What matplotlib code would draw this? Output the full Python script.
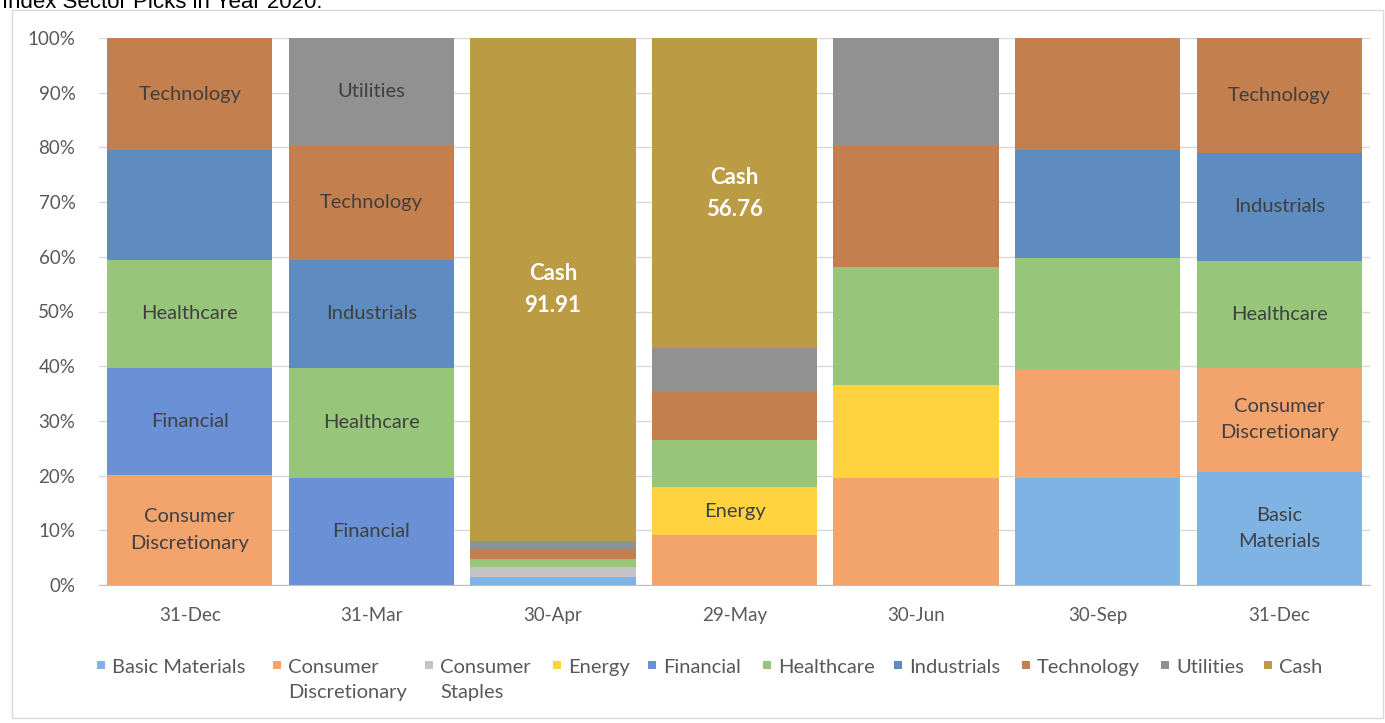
import numpy as np
import matplotlib
matplotlib.use("Agg")
import matplotlib.pyplot as plt
from matplotlib.patches import Rectangle

plt.rcParams['font.family'] = ['Lato', 'DejaVu Sans']

# --------------------------------------------------------------------------------------------
# DATA (percent of portfolio)
dates = ['31-Dec', '31-Mar', '30-Apr', '29-May', '30-Jun', '30-Sep', '31-Dec']

basic_materials = [0, 0, 1.5, 0, 0, 19.6, 20.7]
consumer_disc = [20.1, 0, 0, 9.1, 19.6, 19.7, 19.0]
consumer_staples = [0, 0, 1.7, 0, 0, 0, 0]
energy = [0, 0, 0, 8.8, 17.0, 0, 0]
financial = [19.6, 19.6, 0, 0, 0, 0, 0]
healthcare = [19.7, 20.1, 1.5, 8.6, 21.5, 20.5, 19.6]
industrials = [20.1, 19.7, 0, 0, 0, 19.7, 19.7]
technology = [20.5, 21.0, 1.8, 8.8, 22.3, 20.5, 21.0]
utilities = [0, 19.6, 1.59, 7.94, 19.6, 0, 0]
cash = [0, 0, 91.91, 56.76, 0, 0, 0]

series_names = ['Basic Materials', 'Consumer\nDiscretionary', 'Consumer\nStaples', 'Energy',
                'Financial', 'Healthcare', 'Industrials', 'Technology', 'Utilities', 'Cash']
series_values = [basic_materials, consumer_disc, consumer_staples, energy, financial,
                 healthcare, industrials, technology, utilities, cash]
colors = ['#7eb3e4', '#f3a36c', '#c4c4c4', '#ffd23f', '#6a90d6',
          '#97c67b', '#5e8cc0', '#c47f4f', '#919191', '#bb9c45']

# segment labels drawn inside bars: (bar index, series index, text)
seg_labels = [(0, 7, 'Technology'), (0, 5, 'Healthcare'), (0, 4, 'Financial'),
              (0, 1, 'Consumer\nDiscretionary'),
              (1, 8, 'Utilities'), (1, 7, 'Technology'), (1, 6, 'Industrials'),
              (1, 5, 'Healthcare'), (1, 4, 'Financial'),
              (3, 3, 'Energy'),
              (6, 7, 'Technology'), (6, 6, 'Industrials'), (6, 5, 'Healthcare'),
              (6, 1, 'Consumer\nDiscretionary'), (6, 0, 'Basic\nMaterials')]
cash_labels = [2, 3]

# --------------------------------------------------------------------------------------------
# PLOT
fig = plt.figure(figsize=(13.85, 7.23), dpi=100)
W, H = 1385, 723

# chart frame
fig.add_artist(Rectangle((12 / W, 5 / H), 1371 / W, 708 / H, transform=fig.transFigure,
                         fill=False, edgecolor='#d9d9d9', lw=1))
# title cut off at the top edge
fig.text(2 / W, 1 - 8 / H, 'Index Sector Picks in Year 2020:', fontsize=16,
         family=['Liberation Sans', 'DejaVu Sans'], color='black', va='baseline', ha='left')

ax = fig.add_axes([99 / W, 1 - 585 / H, (1370 - 99) / W, (585 - 38) / H])
x = np.arange(len(dates))
bottom = np.zeros(len(dates))
bottoms = []
for vals, col, name in zip(series_values, colors, series_names):
    vals = np.array(vals, dtype=float)
    ax.bar(x, vals, width=0.91, bottom=bottom, color=col, label=name, zorder=2)
    bottoms.append(bottom.copy())
    bottom += vals

for bi, si, txt in seg_labels:
    yc = bottoms[si][bi] + series_values[si][bi] / 2
    ax.text(x[bi], yc, txt, ha='center', va='center', fontsize=14.5,
            color='#404040', linespacing=1.65, zorder=3)
for bi in cash_labels:
    yc = bottoms[9][bi] + cash[bi] / 2
    ax.text(x[bi], yc, 'Cash\n%.2f' % cash[bi], ha='center', va='center', fontsize=16,
            color='white', fontweight='bold', linespacing=1.65, zorder=3)

ax.set_xlim(-0.5, len(dates) - 0.5)
ax.set_ylim(0, 100)
ax.set_yticks(np.arange(0, 101, 10))
ax.set_yticklabels(['%d%%' % v for v in range(0, 101, 10)])
ax.set_xticks(x)
ax.set_xticklabels(dates)
ax.tick_params(axis='both', length=0, labelsize=13.5, labelcolor='#595959')
ax.tick_params(axis='y', pad=17)
ax.tick_params(axis='x', pad=16)
ax.grid(axis='y', color='#d9d9d9', lw=1, zorder=0)
for s in ['top', 'right', 'left']:
    ax.spines[s].set_visible(False)
ax.spines['bottom'].set_color('#bfbfbf')
ax.spines['bottom'].set_zorder(4)

# legend drawn by hand so wrapped labels hang from the first line
leg_marker_x = [97, 273, 425, 553, 648, 763, 894, 1022, 1161, 1264]
leg_y = 665
for mx, col, name in zip(leg_marker_x, colors, series_names):
    fig.add_artist(Rectangle((mx / W, 1 - (leg_y + 4) / H), 8 / W, 8 / H,
                             transform=fig.transFigure, color=col, lw=0))
    fig.text((mx + 15) / W, 1 - (leg_y - 6) / H, name, fontsize=14.5, color='#595959',
             ha='left', va='top', linespacing=1.6)

fig.savefig('out.png', dpi=100)
